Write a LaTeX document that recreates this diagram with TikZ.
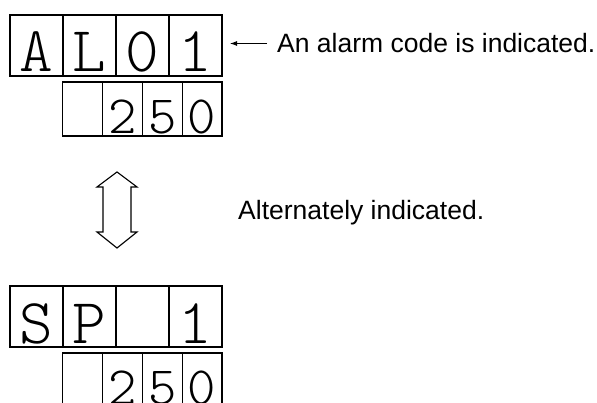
\documentclass[tikz,border=0pt]{standalone}
\usepackage{fontspec}
\setmainfont{Liberation Sans}
\newfontfamily\segfont{Latin Modern Mono Light}
\usetikzlibrary{arrows.meta,positioning}

\begin{document}
\begin{tikzpicture}[
  x=1pt, y=-1pt,
  seg/.style={draw, line width=1.1pt, outer sep=0pt, inner sep=0pt,
              minimum width=53pt, minimum height=61pt,
              font=\segfont\fontsize{64}{64}\selectfont,
              text height=55pt, text depth=2pt},
  sub/.style={draw, line width=1.1pt, outer sep=0pt, inner sep=0pt,
              minimum width=39.8pt, minimum height=54pt,
              font=\segfont\fontsize{54}{54}\selectfont,
              text height=51pt, text depth=2pt},
  lbl/.style={font=\fontsize{26.5}{30}\selectfont, anchor=west, inner sep=0pt},
  arr/.style={-{Latex[length=7pt,width=5pt]}, line width=0.9pt}
]
\useasboundingbox (0,0) rectangle (597,403);

% alarm display
\node[seg] (a1) at (36.5,45.5) {A};
\node[seg, right=0pt of a1] (a2) {L};
\node[seg, right=0pt of a2] (a3) {0};
\node[seg, right=0pt of a3] (a4) {1};
\node[sub, below=6pt of a4.south east, anchor=north east] (b4) {0};
\node[sub, left=0pt of b4] (b3) {5};
\node[sub, left=0pt of b3] (b2) {2};
\node[sub, left=0pt of b2] (b1) {};

% set value display
\node[seg] (c1) at (36.5,316.5) {S};
\node[seg, right=0pt of c1] (c2) {P};
\node[seg, right=0pt of c2] (c3) {};
\node[seg, right=0pt of c3] (c4) {1};
\node[sub, below=6pt of c4.south east, anchor=north east] (d4) {0};
\node[sub, left=0pt of d4] (d3) {5};
\node[sub, left=0pt of d3] (d2) {2};
\node[sub, left=0pt of d2] (d1) {};

% notes
\node[lbl] (alarm) at (277,43.5) {An alarm code is indicated.};
\node[lbl] (alt) at (238,212.5) {Alternately indicated.};
\draw[arr, shorten <=10pt, shorten >=8pt] (alarm.west) -- (alarm.west -| a4.east);

% double arrow
\draw[line width=1.1pt, fill=white, line join=miter]
  (117,172) -- (137,187) -- (131,187) -- (131,232) -- (137,232) -- (117,248)
  -- (97,232) -- (103,232) -- (103,187) -- (97,187) -- cycle;
\end{tikzpicture}
\end{document}
